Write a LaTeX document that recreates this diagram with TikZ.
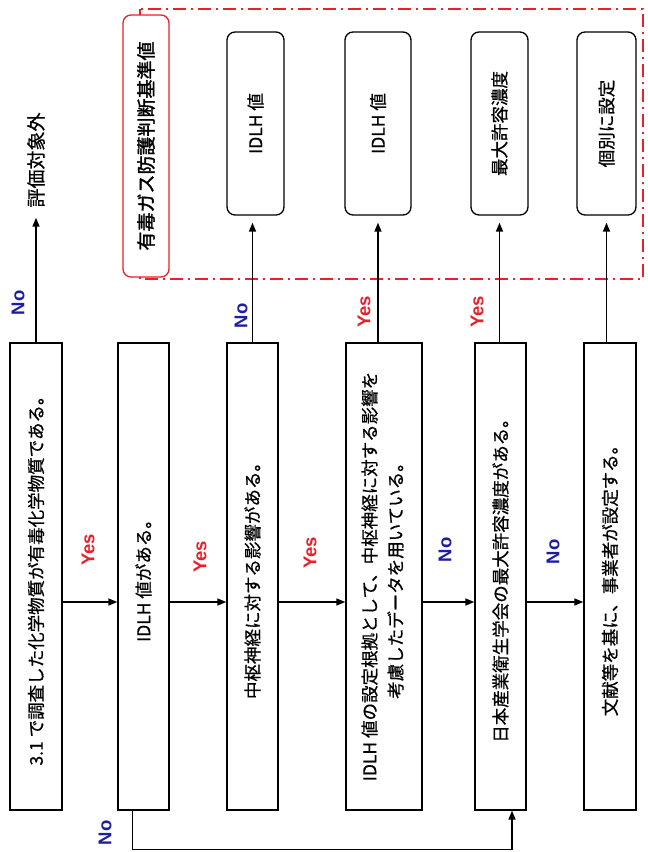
\documentclass[tikz,border=0pt]{standalone}
\usepackage{fontspec}
\setmainfont{Noto Sans CJK JP}[FakeBold=0.7]
\newfontfamily\redfont{Noto Sans CJK JP}[FakeBold=1.6]
\newfontfamily\ynfont{Liberation Sans}
\usepackage{graphicx}
\usepackage{xcolor}
\usetikzlibrary{arrows.meta, positioning, calc}
\definecolor{lblred}{RGB}{232,32,42}
\definecolor{lblblue}{RGB}{30,30,160}

\begin{document}
\begin{tikzpicture}[x=1pt, y=-1pt,
  qbox/.style={draw, line width=1.3pt, inner sep=0pt, minimum height=467pt,
    font=\fontsize{17.5}{26}\selectfont},
  rbox/.style={draw, line width=1.3pt, rounded corners=8pt, inner sep=0pt,
    minimum height=183pt, font=\fontsize{17.5}{26}\selectfont},
  flow/.style={line width=1.5pt, -{Triangle[length=9pt,width=7pt]}},
  yeslbl/.style={text=lblred, rotate=90, inner sep=0pt,
    font=\ynfont\bfseries\fontsize{18.5}{20}\selectfont},
  nolbl/.style={text=lblblue, rotate=90, inner sep=0pt,
    font=\ynfont\bfseries\fontsize{18.5}{20}\selectfont}]
  \useasboundingbox (0,0) rectangle (648,852);

  % result area
  \draw[lblred, line width=1.2pt, dash pattern=on 13pt off 5pt on 2pt off 5pt]
    (140,9) rectangle (643,279);
  \node[rbox, draw=lblred, fill=white, minimum width=46pt, minimum height=262pt,
    font=\redfont\fontsize{19}{22}\selectfont] (r0) at (146,146)
    {\rotatebox{90}{有毒ガス防護判断基準値}};
  \node[rbox, minimum width=57pt] (r1) at (255.5,123.5) {\rotatebox{90}{IDLH 値}};
  \node[rbox, minimum width=66pt] (r2) at (378,123.5) {\rotatebox{90}{IDLH 値}};
  \node[rbox, minimum width=57pt] (r3) at (499.5,123.5) {\rotatebox{90}{最大許容濃度}};
  \node[rbox, minimum width=59pt] (r4) at (606.5,123.5) {\rotatebox{90}{個別に設定}};
  \node[inner sep=0pt, font=\fontsize{19}{22}\selectfont] (out) at (36,160)
    {\rotatebox{90}{評価対象外}};

  % decisions
  \node[qbox, minimum width=52pt] (q1) at (36,576.5)
    {\rotatebox{90}{3.1 で調査した化学物質が有毒化学物質である。}};
  \node[qbox, minimum width=51pt] (q2) at (143.5,576.5)
    {\rotatebox{90}{IDLH 値がある。}};
  \node[qbox, minimum width=51pt] (q3) at (252.5,576.5)
    {\rotatebox{90}{中枢神経に対する影響がある。}};
  \node[qbox, minimum width=76pt] (q4) at (384,576.5)
    {\rotatebox{90}{\begin{tabular}{@{}c@{}}IDLH 値の設定根拠として、中枢神経に対する影響を\\
      考慮したデータを用いている。\end{tabular}}};
  \node[qbox, minimum width=51pt] (q5) at (500.5,576.5)
    {\rotatebox{90}{日本産業衛生学会の最大許容濃度がある。}};
  \node[qbox, minimum width=52pt] (q6) at (610,576.5)
    {\rotatebox{90}{文献等を基に、事業者が設定する。}};

  % horizontal flow
  \coordinate (hy) at (0,602);
  \draw[flow] (q1.east |- hy) -- (q2.west |- hy);
  \draw[flow] (q2.east |- hy) -- (q3.west |- hy);
  \draw[flow] (q3.east |- hy) -- (q4.west |- hy);
  \draw[flow] (q4.east |- hy) -- (q5.west |- hy);
  \draw[flow] (q5.east |- hy) -- (q6.west |- hy);

  % upward flow
  \draw[flow] (q1.north) -- ([yshift=-10pt]out.south);
  \draw[flow, shorten >=7pt] (q3.north) -- (q3.north |- r1.south);
  \draw[flow, shorten >=7pt] (r2.south |- q4.north) -- (r2.south);
  \draw[flow, shorten >=7pt] (r3.south |- q5.north) -- (r3.south);
  \draw[flow, shorten >=7pt] (r4.south |- q6.north) -- (r4.south);

  % IDLH none -> 最大許容濃度
  \draw[flow] ([xshift=-11pt]q2.south) -- ++(0,39) -| ([xshift=11.5pt]q5.south);

  % labels
  \node[nolbl] (n1) at (18,303) {No};
  \node[nolbl] (n2) at (241,316) {No};
  \node[yeslbl] (y1) at (364,312) {Yes};
  \node[yeslbl] (y2) at (477,312) {Yes};
  \node[yeslbl] (y3) at (88,550) {Yes};
  \node[yeslbl] (y4) at (200,557) {Yes};
  \node[yeslbl] (y5) at (310,553) {Yes};
  \node[nolbl] (n3) at (445,550) {No};
  \node[nolbl] (n4) at (553,552) {No};
  \node[nolbl] (n5) at (105,833) {No};
\end{tikzpicture}
\end{document}
